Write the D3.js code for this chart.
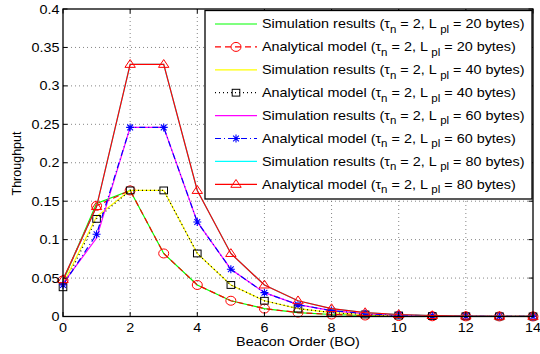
<!DOCTYPE html>
<html>
<head>
<meta charset="utf-8">
<script src="https://cdn.jsdelivr.net/npm/d3@7"></script>
<style>
  html, body { margin: 0; padding: 0; background: #fff; }
  svg { display: block; }
  text { font-family: "Liberation Sans", Arial, Helvetica, sans-serif; fill: #000; }
</style>
</head>
<body>
<svg id="chart" width="540" height="354"></svg>
<script>
// Beacon order values on the x axis
const beaconOrder = [0, 1, 2, 3, 4, 5, 6, 7, 8, 9, 10, 11, 12, 13, 14];

// Throughput, simulation and analytical model, tau_n = 2
const sim20  = [0.046, 0.147, 0.164, 0.082, 0.041, 0.0205, 0.0103, 0.0051, 0.0026, 0.0013, 0.0006, 0.0003, 0.0002, 0.0001, 0.00005];
const ana20  = [0.047, 0.144, 0.164, 0.082, 0.041, 0.0205, 0.0103, 0.0051, 0.0026, 0.0013, 0.0006, 0.0003, 0.0002, 0.0001, 0.00005];
const sim40  = [0.042, 0.130, 0.164, 0.164, 0.082, 0.041, 0.0205, 0.0103, 0.0051, 0.0026, 0.0013, 0.0006, 0.0003, 0.0002, 0.0001];
const ana40  = [0.038, 0.127, 0.164, 0.164, 0.082, 0.041, 0.0205, 0.0103, 0.0051, 0.0026, 0.0013, 0.0006, 0.0003, 0.0002, 0.0001];
const sim60  = [0.043, 0.102, 0.246, 0.246, 0.123, 0.0615, 0.031, 0.0154, 0.0077, 0.0038, 0.0019, 0.001, 0.0005, 0.0002, 0.0001];
const ana60  = [0.041, 0.107, 0.246, 0.246, 0.123, 0.0615, 0.031, 0.0154, 0.0077, 0.0038, 0.0019, 0.001, 0.0005, 0.0002, 0.0001];
const sim80  = [0.048, 0.143, 0.328, 0.328, 0.164, 0.082, 0.041, 0.0205, 0.0103, 0.0051, 0.0026, 0.0013, 0.0006, 0.0003, 0.0002];
const ana80  = [0.048, 0.143, 0.328, 0.328, 0.164, 0.082, 0.041, 0.0205, 0.0103, 0.0051, 0.0026, 0.0013, 0.0006, 0.0003, 0.0002];

// Axis ticks
const xTicks = [0, 2, 4, 6, 8, 10, 12, 14];
const yTicks = [0, 0.05, 0.1, 0.15, 0.2, 0.25, 0.3, 0.35, 0.4];
const yTickLabels = ["0", "0.05", "0.1", "0.15", "0.2", "0.25", "0.3", "0.35", "0.4"];

// Series definitions (drawn in this order)
const series = [
  { values: sim20, color: "#00ff00", dash: null,        marker: null,       kind: "Simulation results", L: 20 },
  { values: ana20, color: "#ff0000", dash: "6,4",       marker: "circle",   kind: "Analytical model",   L: 20 },
  { values: sim40, color: "#ffff00", dash: null,        marker: null,       kind: "Simulation results", L: 40 },
  { values: ana40, color: "#000000", dash: "1,3",       marker: "square",   kind: "Analytical model",   L: 40 },
  { values: sim60, color: "#ff00ff", dash: null,        marker: null,       kind: "Simulation results", L: 60 },
  { values: ana60, color: "#0000ff", dash: "6,3,1,3",   marker: "star",     kind: "Analytical model",   L: 60 },
  { values: sim80, color: "#00ffff", dash: null,        marker: null,       kind: "Simulation results", L: 80 },
  { values: ana80, color: "#ff0000", dash: null,        marker: "triangle", kind: "Analytical model",   L: 80 }
];

const FONT = 12.5;     // glyph height
const SX = 1.15;       // horizontal stretch of the glyphs
const SUB = 10;        // subscript size
const LW = 1.2;        // series line width

const svg = d3.select("#chart");
const plot = { left: 63, right: 533, top: 9, bottom: 316.5 };

const x = d3.scaleLinear().domain([0, 14]).range([plot.left, plot.right]);
const y = d3.scaleLinear().domain([0, 0.4]).range([plot.bottom, plot.top]);

// helper for horizontally stretched text
function stretchedText(parent, px, py, anchor) {
  const g = parent.append("g").attr("transform", `translate(${px},${py}) scale(${SX},1)`);
  return g.append("text").attr("text-anchor", anchor || "start").attr("font-size", FONT);
}

// grid
const grid = svg.append("g").attr("stroke", "#666").attr("stroke-width", 0.8)
  .attr("stroke-dasharray", "1,3").attr("fill", "none");
xTicks.slice(1, -1).forEach(t => {
  grid.append("line").attr("x1", x(t)).attr("x2", x(t)).attr("y1", plot.top).attr("y2", plot.bottom);
});
yTicks.slice(1, -1).forEach(t => {
  grid.append("line").attr("x1", plot.left).attr("x2", plot.right).attr("y1", y(t)).attr("y2", y(t));
});

// series lines and markers
const line = d3.line().x((d, i) => x(beaconOrder[i])).y(d => y(d));
const marks = svg.append("g");

function drawMarker(g, kind, cx, cy, color) {
  if (kind === "circle") {
    g.append("ellipse").attr("cx", cx).attr("cy", cy).attr("rx", 5).attr("ry", 4.5)
      .attr("fill", "none").attr("stroke", color).attr("stroke-width", 1);
  } else if (kind === "square") {
    g.append("rect").attr("x", cx - 3.8).attr("y", cy - 3.4).attr("width", 7.6).attr("height", 6.8)
      .attr("fill", "none").attr("stroke", color).attr("stroke-width", 1);
  } else if (kind === "triangle") {
    g.append("path").attr("d", `M${cx},${cy - 4.8}L${cx + 5.2},${cy + 3}L${cx - 5.2},${cy + 3}Z`)
      .attr("fill", "none").attr("stroke", color).attr("stroke-width", 1);
  } else if (kind === "star") {
    const r = 4, d = 2.9;
    g.append("path")
      .attr("d", `M${cx - r},${cy}L${cx + r},${cy}M${cx},${cy - r}L${cx},${cy + r}` +
                 `M${cx - d},${cy - d}L${cx + d},${cy + d}M${cx - d},${cy + d}L${cx + d},${cy - d}`)
      .attr("stroke", color).attr("stroke-width", 1.1).attr("fill", "none");
  }
}

series.forEach(s => {
  const g = marks.append("g");
  g.append("path").attr("d", line(s.values)).attr("fill", "none")
    .attr("stroke", s.color).attr("stroke-width", LW)
    .attr("stroke-dasharray", s.dash);
  if (s.marker) {
    s.values.forEach((v, i) => drawMarker(g, s.marker, x(beaconOrder[i]), y(v), s.color));
  }
});

// axes box and ticks
const axes = svg.append("g").attr("stroke", "#000").attr("fill", "none");
axes.append("rect").attr("x", plot.left).attr("y", plot.top)
  .attr("width", plot.right - plot.left).attr("height", plot.bottom - plot.top)
  .attr("stroke-width", 1.3);
const tl = 4.5;
xTicks.forEach(t => {
  axes.append("line").attr("x1", x(t)).attr("x2", x(t)).attr("y1", plot.bottom).attr("y2", plot.bottom - tl);
  axes.append("line").attr("x1", x(t)).attr("x2", x(t)).attr("y1", plot.top).attr("y2", plot.top + tl);
});
yTicks.forEach(t => {
  axes.append("line").attr("x1", plot.left).attr("x2", plot.left + tl).attr("y1", y(t)).attr("y2", y(t));
  axes.append("line").attr("x1", plot.right).attr("x2", plot.right - tl).attr("y1", y(t)).attr("y2", y(t));
});

// tick labels
const labels = svg.append("g");
xTicks.forEach(t => {
  stretchedText(labels, x(t), 332, "middle").text(t);
});
yTicks.forEach((t, i) => {
  stretchedText(labels, 59.5, y(t) + 4.5, "end").text(yTickLabels[i]);
});

// axis titles
stretchedText(labels, 298, 346, "middle").text("Beacon Order (BO)");
labels.append("text").attr("transform", `translate(21,163.5) rotate(-90)`)
  .attr("text-anchor", "middle").attr("font-size", FONT).text("Throughput");

// legend
const lg = svg.append("g");
const legBox = { x: 205, y: 10.5, w: 327, h: 188.5 };
lg.append("rect").attr("x", legBox.x).attr("y", legBox.y).attr("width", legBox.w).attr("height", legBox.h)
  .attr("fill", "#fff").attr("stroke", "#000").attr("stroke-width", 1.3);

const rowY = d3.scaleLinear().domain([0, 7]).range([24, 184.3]);
series.forEach((s, i) => {
  const cy = rowY(i);
  lg.append("line").attr("x1", 215).attr("x2", 257).attr("y1", cy).attr("y2", cy)
    .attr("stroke", s.color).attr("stroke-width", LW).attr("stroke-dasharray", s.dash);
  if (s.marker) drawMarker(lg, s.marker, 236, cy, s.color);
  const t = stretchedText(lg, 262, cy + 4.3, "start");
  t.append("tspan").text(`${s.kind} (\u03c4`);
  t.append("tspan").attr("font-size", SUB).attr("dy", 4.5).text("n");
  t.append("tspan").attr("dy", -4.5).text(" = 2, L ");
  t.append("tspan").attr("font-size", SUB).attr("dy", 4.5).text("pl");
  t.append("tspan").attr("dy", -4.5).text(` = ${s.L} bytes)`);
});
</script>
</body>
</html>
